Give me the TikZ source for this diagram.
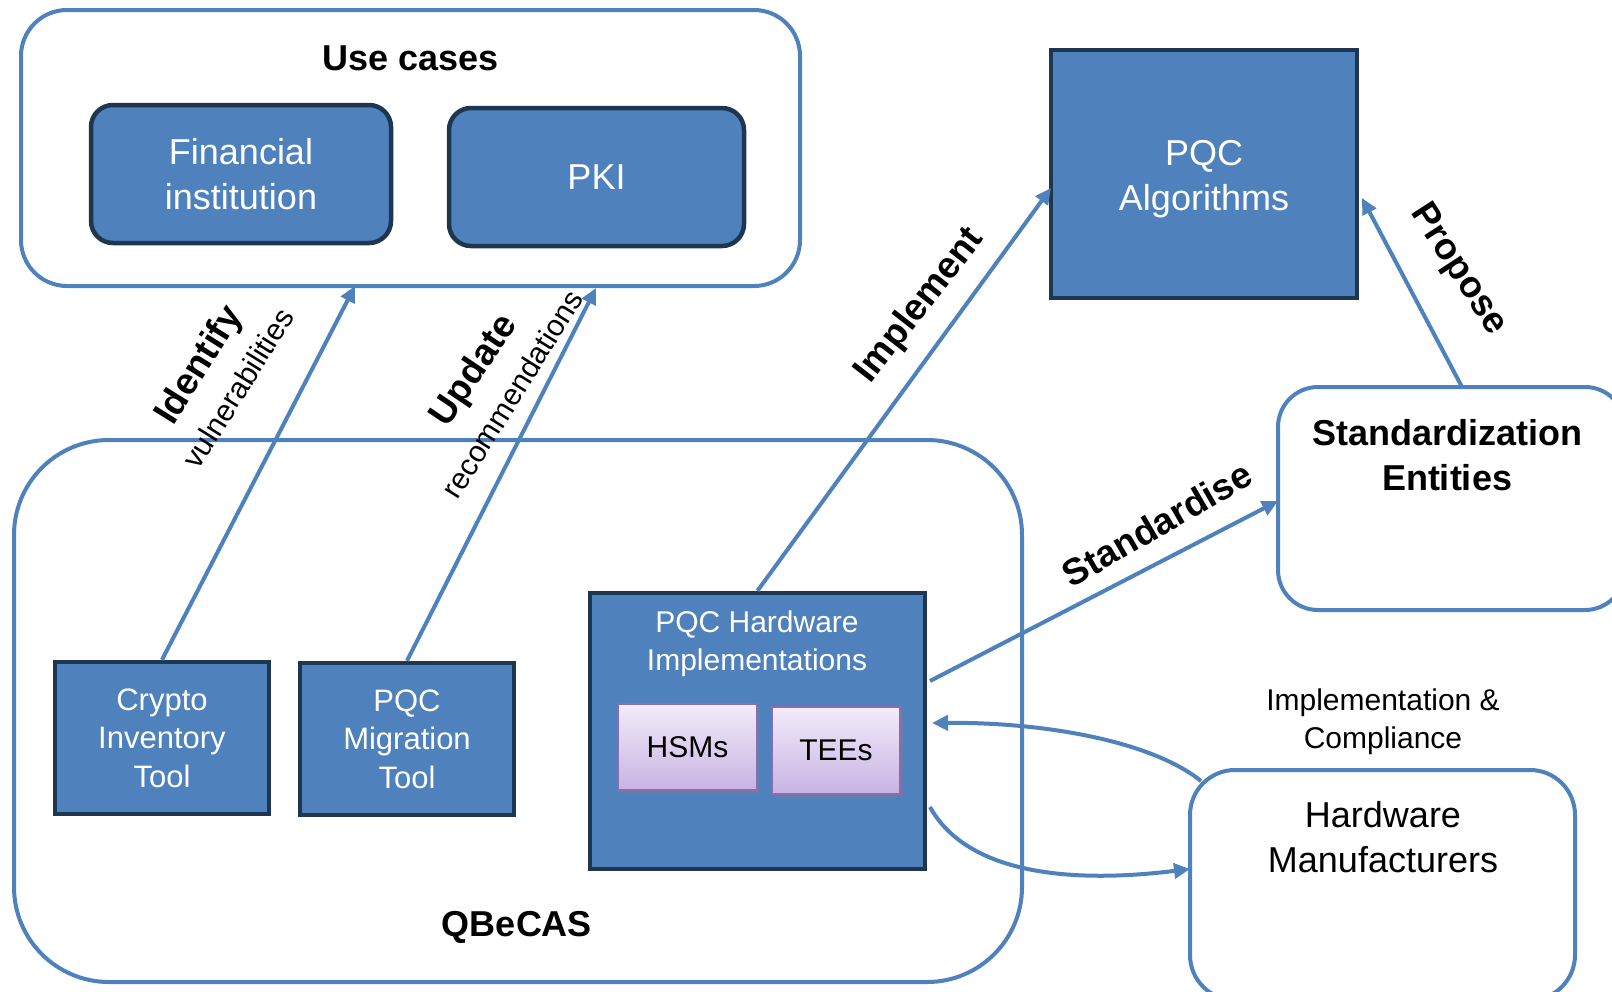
\documentclass[tikz,border=0pt]{standalone}
\usepackage{fontspec}
\setmainfont{Liberation Sans}
\usetikzlibrary{arrows.meta,shadows}
\definecolor{boxblue}{HTML}{4F81BD}
\definecolor{navy}{HTML}{1F3651}
\definecolor{lavtop}{HTML}{F2ECFA}
\definecolor{lavbot}{HTML}{C8B3E3}
\definecolor{lavline}{HTML}{8C6BB1}
\newcommand\fsBig{\fontsize{36}{45}\selectfont}
\newcommand\fsMid{\fontsize{31}{38.5}\selectfont}
\newcommand\fsSm{\fontsize{30}{38}\selectfont}
\newcommand\fsLbl{\fontsize{37}{42}\selectfont}
\begin{document}
\begin{tikzpicture}[x=1pt,y=-1pt]
\tikzset{
 bluebox/.style={fill=boxblue, draw=navy, line width=4.5, text=white, align=center, inner sep=0, font=\fsBig},
 outer/.style={draw=boxblue, line width=4, fill=none, inner sep=0},
 arr/.style={draw=boxblue, line width=4, -{Triangle[length=16pt,width=15pt]}},
 lav/.style={top color=lavtop, bottom color=lavbot, draw=lavline, line width=1.5, font=\fsSm, text=black, inner sep=0,
   drop shadow={shadow xshift=3pt, shadow yshift=-3pt, opacity=0.35}},
 lbl/.style={font=\fsLbl\bfseries, text=black, inner sep=0},
 sublbl/.style={font=\fsSm, text=black, inner sep=0},
 plain/.style={text=black, align=center, inner sep=0},
}
\useasboundingbox (0,0) rectangle (1612,991);
\fill[white] (0,0) rectangle (1612,991);

% Use cases group
\node[outer, rounded corners=46, minimum width=779, minimum height=276] (uc) at (410.5,148) {};
\node[plain, font=\fsBig\bfseries] (uct) at (411,58) {Use cases};
\node[bluebox, rounded corners=22, minimum width=300, minimum height=138] (fin) at (241,174) {Financial\\institution};
\node[bluebox, rounded corners=22, minimum width=295, minimum height=138] (pki) at (596.5,177) {PKI};

% QBeCAS group
\node[outer, rounded corners=95, minimum width=1008, minimum height=542] (qb) at (518,711) {};
\node[plain, font=\fsBig\bfseries] (qbt) at (517,927) {QBeCAS};
\node[bluebox, font=\fsMid, minimum width=214, minimum height=152] (cit) at (162,738) {Crypto\\Inventory\\Tool};
\node[bluebox, font=\fsMid, minimum width=214, minimum height=152] (pmt) at (407,739) {PQC\\Migration\\Tool};
\node[bluebox, minimum width=335, minimum height=276] (hw) at (757.5,731) {};
\node[plain, font=\fsSm, text=white] (hwt) at (757,644) {PQC Hardware\\Implementations};
\node[lav, minimum width=139, minimum height=86] (hsm) at (687.5,747) {HSMs};
\node[lav, minimum width=128, minimum height=87] (tee) at (836,750.5) {TEEs};

% Right side
\node[bluebox, minimum width=306, minimum height=248] (alg) at (1204,174) {};
\node[plain, font=\fsBig, text=white] (algt) at (1204,179) {PQC\\Algorithms};
\node[outer, rounded corners=40, minimum width=347, minimum height=223] (std) at (1451.5,498.5) {};
\node[plain, font=\fsBig\bfseries] (stdt) at (1447,455) {Standardization\\Entities};
\node[outer, rounded corners=45, minimum width=385, minimum height=230] (hm) at (1382.5,885) {};
\node[plain, font=\fsBig] (hmt) at (1383,837) {Hardware\\Manufacturers};
\node[plain, font=\fsSm] (ic) at (1383,722) {Implementation \&\\Compliance};

% connector end points
\coordinate (ucA) at (355,286);
\coordinate (ucB) at (596,288);
\coordinate (algW) at (1051,188);
\coordinate (hwE1) at (930,681);
\coordinate (stdW) at (1278,501);
\coordinate (stdN) at (1462,387);
\coordinate (algE) at (1362,198);
\coordinate (hmNW) at (1201,781);
\coordinate (hwE2) at (932,723);
\coordinate (hwE3) at (930,807);
\coordinate (hmW) at (1190,869);

% connectors
\draw[arr] (cit.north) -- (ucA);
\draw[arr] (pmt.north) -- (ucB);
\draw[arr] (hw.north) -- (algW);
\draw[arr] (hwE1) -- (stdW);
\draw[arr] (stdN) -- (algE);
\draw[arr] (hmNW) .. controls (1150,740) and (1040,722) .. (hwE2);
\draw[arr] (hwE3) .. controls (965,870) and (1060,885) .. (hmW);

% labels
\node[lbl, rotate=58] (l1) at (200,366) {Identify};
\node[sublbl, rotate=58] (l2) at (238,388) {vulnerabilities};
\node[lbl, rotate=56] (l3) at (475,371) {Update};
\node[sublbl, rotate=58] (l4) at (512,394) {recommendations};
\node[lbl, rotate=52] (l5) at (920,306) {Implement};
\node[lbl, rotate=30] (l6) at (1157,524) {Standardise};
\node[lbl, rotate=-57] (l7) at (1458,270) {Propose};
\end{tikzpicture}
\end{document}
